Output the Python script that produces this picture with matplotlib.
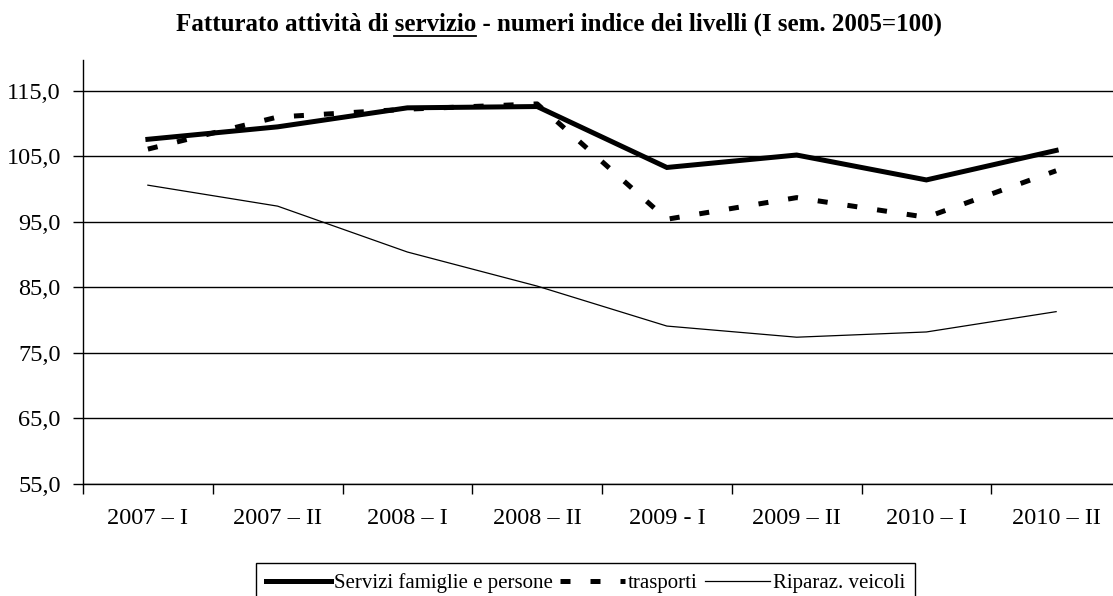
import numpy as np
import matplotlib
matplotlib.use('Agg')
import matplotlib.pyplot as plt

plt.rcParams['font.family'] = ['Liberation Serif', 'DejaVu Serif']

# ── Data ───────────────────────────────────────────────────────────────────────

periods   = ['2007 – I', '2007 – II', '2008 – I', '2008 – II',
             '2009 - I', '2009 – II', '2010 – I', '2010 – II']
servizi   = [107.6, 109.5, 112.4, 112.6, 103.3, 105.2, 101.4, 105.9]
trasporti = [106.1, 111.0, 112.2, 113.0, 95.4, 98.7, 95.7, 102.8]
riparaz   = [100.6, 97.4, 90.4, 85.2, 79.1, 77.4, 78.2, 81.3]
y_ticks   = [55, 65, 75, 85, 95, 105, 115]

# ── Figure ─────────────────────────────────────────────────────────────────────

W, H = 1113, 596
fig = plt.figure(figsize=(W/100, H/100), dpi=100)
ax = fig.add_axes([83/W, 1-484/H, (1121-83)/W, (484-60)/H])

x = np.arange(len(periods))
l1, = ax.plot(x, servizi, color='black', lw=3.6, solid_joinstyle='miter',
              label='Servizi famiglie e persone')
l2, = ax.plot(x, trasporti, color='black', lw=3.6, linestyle=(0, (2, 4)),
              label='trasporti')
l3, = ax.plot(x, riparaz, color='black', lw=0.9, label='Riparaz. veicoli')

ax.set_xlim(-0.5, len(periods)-0.5)
ax.set_ylim(55, 119.7)
ax.set_yticks(y_ticks)
ax.set_yticklabels([f'{v:.1f}'.replace('.', ',') for v in y_ticks], fontsize=17.5)
ax.yaxis.grid(True, color='black', lw=1.0)
ax.set_axisbelow(True)

ax.set_xticks(x)
ax.set_xticklabels(periods, fontsize=17.5)
ax.tick_params(axis='x', which='major', length=0, pad=17)
ax.set_xticks(np.arange(-0.5, len(periods), 1), minor=True)
ax.tick_params(axis='x', which='minor', length=7, width=1, direction='out')
ax.tick_params(axis='y', length=7, width=1, direction='out', pad=9)

for s in ['top', 'right']:
    ax.spines[s].set_visible(False)
for s in ['left', 'bottom']:
    ax.spines[s].set_linewidth(1.0)

# ── Title with underlined word ─────────────────────────────────────────────────

title = 'Fatturato attività di servizio - numeri indice dei livelli (I sem. 2005=100)'
ty = 1 - 24/H
t = fig.text(0.502, ty, title, ha='center', va='center',
             fontsize=18, fontweight='bold')
fig.canvas.draw()
r = fig.canvas.get_renderer()
bb = t.get_window_extent(r)
probe = fig.text(0, 0, 'Fatturato attività di servizio', fontsize=18, fontweight='bold')
w_pre = probe.get_window_extent(r).width
probe.set_text('servizio')
w_word = probe.get_window_extent(r).width
probe.remove()
x_end = bb.x0 + w_pre
x_start = x_end - w_word
uy = 1 - 36/H
fig.add_artist(plt.Line2D([x_start/W, x_end/W], [uy, uy], color='black', lw=1.3))

# ── Legend ─────────────────────────────────────────────────────────────────────

leg = fig.legend(handles=[l1, l2, l3], loc='upper left', ncol=3,
                 bbox_to_anchor=(256/W, 1-563/H), borderaxespad=0,
                 fontsize=15, handlelength=3.1, handletextpad=0.15,
                 columnspacing=0.35, fancybox=False, framealpha=1,
                 edgecolor='black', borderpad=0.5)
leg.get_frame().set_linewidth(1.0)

fig.savefig('out.png', dpi=100)
